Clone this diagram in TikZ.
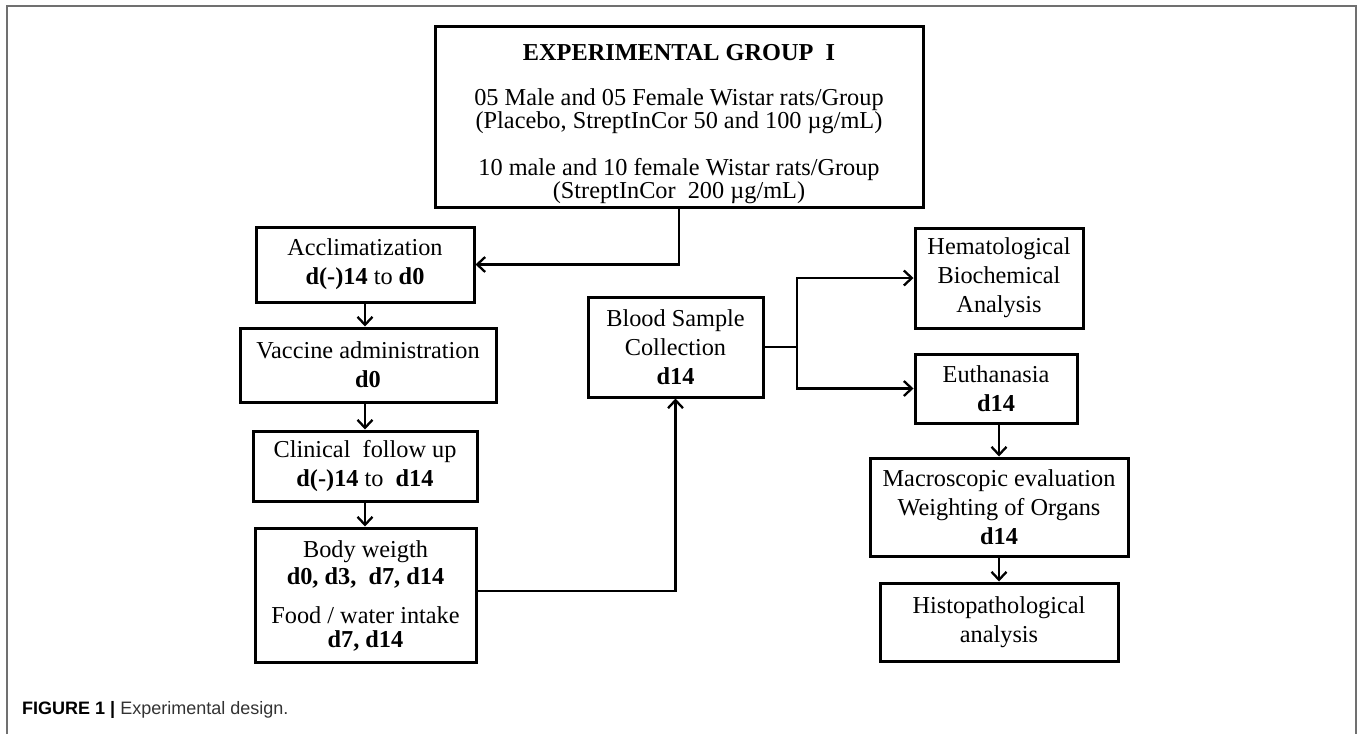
\documentclass[tikz,border=0pt]{standalone}
\usepackage{fontspec}
\setmainfont{Liberation Serif}
\newfontfamily\capfont{Liberation Sans}
\usetikzlibrary{arrows.meta}
\definecolor{framegray}{HTML}{707070}
\definecolor{capgray}{HTML}{333333}
\begin{document}
\begin{tikzpicture}[x=1pt,y=-1pt,
  box/.style={draw, line width=3pt, rectangle, align=center, inner sep=0pt,
    font=\fontsize{24.3}{29}\selectfont},
  txt/.style={align=center, inner sep=0pt},
  arr/.style={line width=2.3pt, -{Straight Barb[length=8pt,width=15pt,line width=2.3pt]}},
  con/.style={line width=2.3pt}]
\useasboundingbox (0,0) rectangle (1360,734);
\draw[framegray, line width=2pt] (7,734) -- (7,6) -- (1356,6) -- (1356,734);

% top box
\node[box, minimum width=488pt, minimum height=181pt] (top) at (679,116.5) {};
\node[txt, font=\fontsize{24.3}{21}\selectfont] (toptxt) at (679,124) {%
  \textbf{EXPERIMENTAL GROUP\ \ I}\\[24pt]
  05 Male and 05 Female Wistar rats/Group\\
  (Placebo, StreptInCor 50 and 100 µg/mL)\\[24pt]
  10 male and 10 female Wistar rats/Group\\
  (StreptInCor\ \ 200 µg/mL)};

% left column
\node[box, minimum width=218pt, minimum height=75pt] (accl) at (365,264.5)
  {Acclimatization\\ \textbf{d(-)14} to \textbf{d0}};
\node[box, minimum width=256pt, minimum height=74pt] (vacc) at (368,365)
  {Vaccine administration\\ \textbf{d0}};
\node[box, minimum width=224pt, minimum height=70pt] (clin) at (365,466)
  {Clinical\ \ follow up\\ \textbf{d(-)14} to\ \ \textbf{d14}};
\node[box, minimum width=221pt, minimum height=134pt] (body) at (365.5,595) {};
\node[txt, font=\fontsize{24.3}{27}\selectfont] (bodytxt) at (365.5,596)
  {Body weigth\\ \textbf{d0, d3,\ \ d7, d14}\\[12pt] Food / water intake\\[-3pt] \textbf{d7, d14}};

% middle
\node[box, minimum width=175pt, minimum height=100pt] (blood) at (675.5,347)
  {Blood Sample\\ Collection\\ \textbf{d14}};

% right column
\node[box, minimum width=168pt, minimum height=100pt] (hema) at (999,278)
  {Hematological\\ Biochemical\\ Analysis};
\node[box, minimum width=162pt, minimum height=69pt] (euth) at (996,388.5)
  {Euthanasia\\ \textbf{d14}};
\node[box, minimum width=258pt, minimum height=98pt] (macro) at (999,507)
  {Macroscopic evaluation\\ Weighting of Organs\\ \textbf{d14}};
\node[box, minimum width=238pt, minimum height=78pt] (histo) at (999,622)
  {Histopathological\\ analysis};

% connectors
\draw[arr] (top.south) |- (accl.east);
\draw[arr] (accl.south) -- (accl.south |- vacc.north);
\draw[arr] (vacc.south -| accl.south) -- (accl.south |- clin.north);
\draw[arr] (clin.south) -- (clin.south |- body.north);
\coordinate (bj) at (678,591);
\draw[arr] (body.east |- bj) -| (blood.south);
\coordinate (br) at (797,347);
\draw[con] (blood.east) -- (br);
\draw[arr] (br) |- (hema.west);
\draw[arr] (br) |- (euth.west);
\draw[arr] (euth.south -| macro.north) -- (macro.north);
\draw[arr] (macro.south) -- (macro.south |- histo.north);

% caption
\node[anchor=base west, inner sep=0pt, font=\capfont\fontsize{18}{20}\selectfont] (cap) at (22,714.5)
  {\textbf{FIGURE 1 |} \textcolor{capgray}{Experimental design.}};
\end{tikzpicture}
\end{document}
